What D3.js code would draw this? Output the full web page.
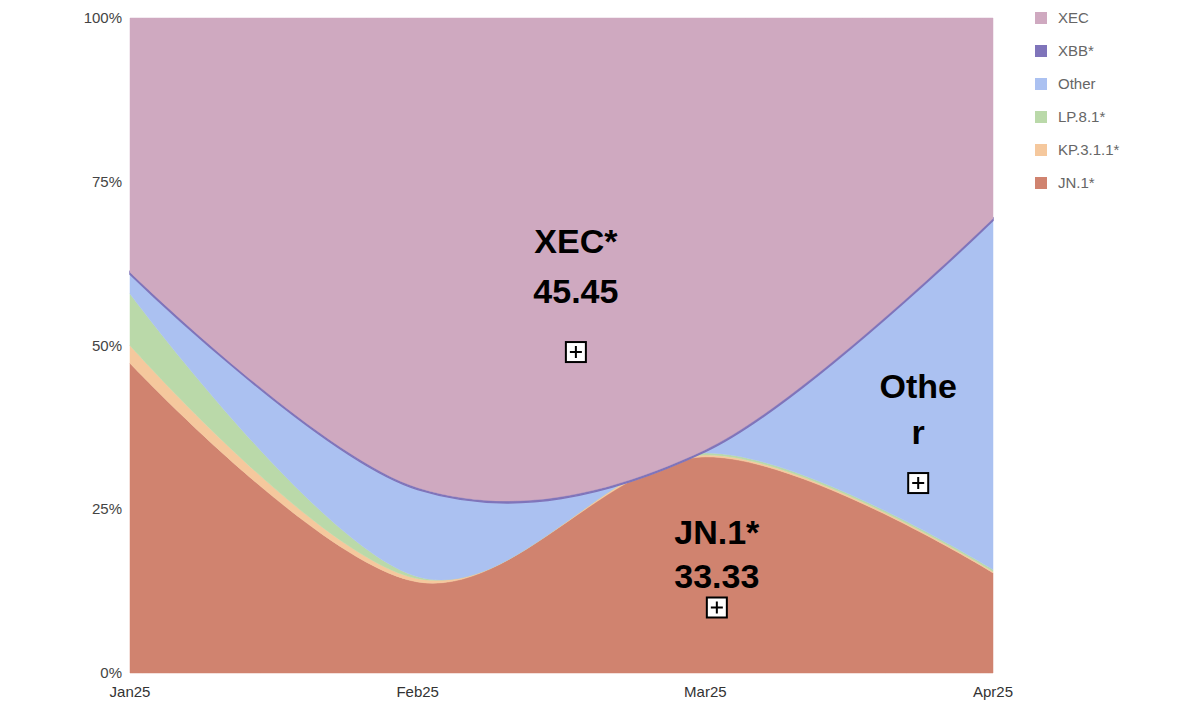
<!DOCTYPE html>
<html><head><meta charset="utf-8">
<script src="https://cdn.jsdelivr.net/npm/d3@7"></script>
<style>body{margin:0;background:#fff;font-family:"Liberation Sans",Arial,sans-serif}</style>
</head><body><svg id="c" width="1200" height="717"></svg>
<script>
var months = ["Jan25", "Feb25", "Mar25", "Apr25"]
var jn1 = [47.3, 13.9, 33.0, 15.3]
var kp311 = [2.7, 0.5, 0.3, 0.2]
var lp81 = [7.9, 0.3, 0.3, 0.3]
var other = [3.0, 13.3, 0.2, 53.3]
var xbb = [0.3, 0.3, 0.3, 0.3]
var xec = [38.8, 71.7, 65.9, 30.6]
var seriesNames = ["JN.1*", "KP.3.1.1*", "LP.8.1*", "Other", "XBB*", "XEC"]
var colors = ["#d0836f", "#f5c89d", "#bad9a9", "#abc1f1", "#7f74ba", "#cfa9c0"]
var yTicks = [0, 25, 50, 75, 100]
var labels = [
	{lines: ["XEC*", "45.45"], m: 1.55, v: 49, dy: -99, gap: 50},
	{lines: ["Othe", "r"], m: 2.74, v: 29, dy: -85, gap: 46},
	{lines: ["JN.1*", "33.33"], m: 2.04, v: 10, dy: -64, gap: 44}
]

var svg = d3.select("#c")
var x = d3.scalePoint().domain(months).range([130, 993])
var y = d3.scaleLinear().domain([0, 100]).range([673, 18])
var xm = d3.scaleLinear().domain([0, 3]).range([130, 993])

var rows = months.map(function(m, i){
	return {m: m, "JN.1*": jn1[i], "KP.3.1.1*": kp311[i], "LP.8.1*": lp81[i],
		"Other": other[i], "XBB*": xbb[i], "XEC": xec[i]}
})
var stack = d3.stack().keys(seriesNames)(rows)

var area = d3.area()
	.x(function(d){ return x(d.data.m) })
	.y0(function(d){ return y(d[0]) })
	.y1(function(d){ return y(d[1]) })
	.curve(d3.curveCardinal.tension(0))

svg.append("g").selectAll("path").data(stack).enter().append("path")
	.attr("d", area)
	.attr("fill", function(d, i){ return colors[i] })
	.attr("stroke", function(d, i){ return colors[i] })
	.attr("stroke-width", function(d){ return d.key == "XBB*" ? 1.5 : 0.5 })

// axes
svg.append("g").selectAll("text").data(yTicks).enter().append("text")
	.attr("x", 122).attr("y", function(d){ return y(d) + 5 })
	.attr("text-anchor", "end").attr("font-size", 15).attr("fill", "#444")
	.text(function(d){ return d + "%" })
svg.append("g").selectAll("text").data(months).enter().append("text")
	.attr("x", function(d){ return x(d) }).attr("y", 697)
	.attr("text-anchor", "middle").attr("font-size", 15).attr("fill", "#333")
	.text(function(d){ return d })

// legend
var leg = svg.append("g").selectAll("g").data(seriesNames.slice().reverse()).enter().append("g")
	.attr("transform", function(d, i){ return "translate(1035," + (18 + i * 33) + ")" })
leg.append("rect").attr("x", 0).attr("y", -6).attr("width", 12).attr("height", 12)
	.attr("fill", function(d){ return colors[seriesNames.indexOf(d)] })
leg.append("text").attr("x", 23).attr("y", 5).attr("font-size", 15).attr("fill", "#666")
	.text(function(d){ return d })

// annotations
var ann = svg.append("g").selectAll("g").data(labels).enter().append("g")
ann.each(function(d){
	var g = d3.select(this), cx = xm(d.m), cy = y(d.v)
	g.selectAll("text").data(d.lines).enter().append("text")
		.attr("x", cx).attr("y", function(t, i){ return cy + d.dy + i * d.gap })
		.attr("text-anchor", "middle").attr("font-size", 34).attr("font-weight", "bold")
		.attr("fill", "#000").text(function(t){ return t })
	g.append("rect").attr("x", cx - 10).attr("y", cy - 10).attr("width", 20).attr("height", 20)
		.attr("fill", "#fff").attr("stroke", "#000").attr("stroke-width", 2)
	g.append("path").attr("d", "M" + (cx - 6) + "," + cy + "H" + (cx + 6) + "M" + cx + "," + (cy - 6) + "V" + (cy + 6))
		.attr("stroke", "#000").attr("stroke-width", 2)
})
</script></body></html>
